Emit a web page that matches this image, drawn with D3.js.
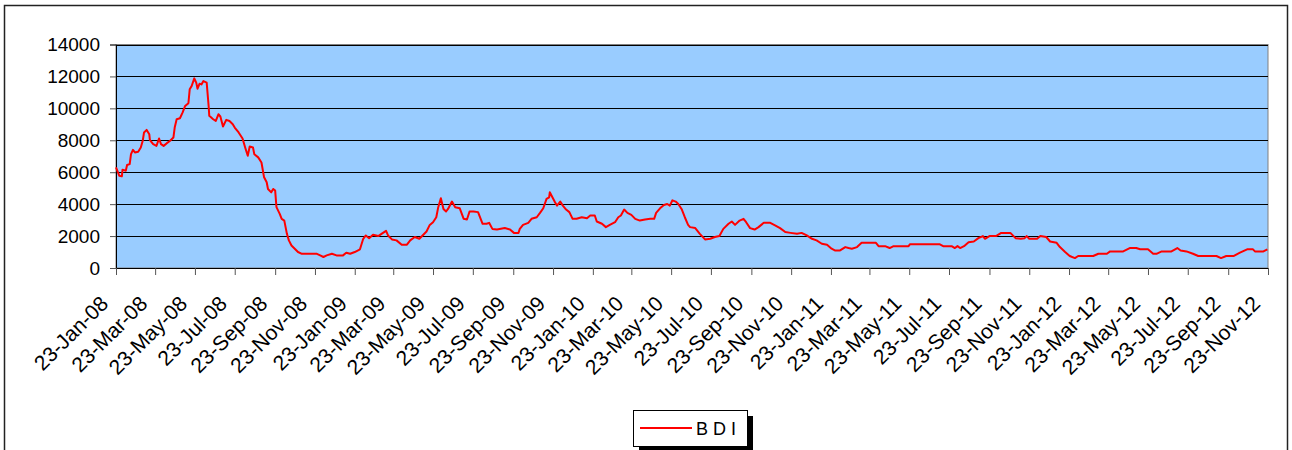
<!DOCTYPE html>
<meta charset="utf-8">
<style>
  body { margin: 0; background: #fff; }
  text { font-family: "Liberation Sans", Arial, sans-serif; fill: #000; }
</style>
<body>
<div id="chart"></div>
<script src="https://d3js.org/d3.v7.min.js"></script>
<script>

// BDI readings
var dates = [
  "2008-01-23","2008-01-28","2008-02-01","2008-02-02","2008-02-07","2008-02-09","2008-02-13","2008-02-15",
  "2008-02-18","2008-02-21","2008-02-26","2008-03-01","2008-03-04","2008-03-06","2008-03-10","2008-03-14",
  "2008-03-15","2008-03-20","2008-03-25","2008-03-29","2008-04-01","2008-04-05","2008-04-10","2008-04-15",
  "2008-04-20","2008-04-22","2008-04-25","2008-04-30","2008-05-04","2008-05-08","2008-05-13","2008-05-15",
  "2008-05-18","2008-05-22","2008-05-25","2008-05-27","2008-05-30","2008-06-02","2008-06-05","2008-06-10",
  "2008-06-13","2008-06-14","2008-06-20","2008-06-24","2008-06-28","2008-07-01","2008-07-05","2008-07-10",
  "2008-07-15","2008-07-20","2008-07-23","2008-07-29","2008-08-04","2008-08-08","2008-08-12","2008-08-15",
  "2008-08-20","2008-08-22","2008-08-28","2008-09-02","2008-09-06","2008-09-10","2008-09-12","2008-09-17",
  "2008-09-20","2008-09-23","2008-09-25","2008-09-30","2008-10-03","2008-10-07","2008-10-11","2008-10-14",
  "2008-10-18","2008-10-23","2008-10-28","2008-11-03","2008-11-15","2008-11-26","2008-12-01","2008-12-06",
  "2008-12-11","2008-12-19","2008-12-26",
  "2009-01-05","2009-01-10","2009-01-16","2009-01-23","2009-01-31","2009-02-05","2009-02-09","2009-02-14",
  "2009-02-20","2009-02-28","2009-03-05","2009-03-12","2009-03-15","2009-03-21","2009-03-28","2009-04-05",
  "2009-04-13","2009-04-18","2009-04-25","2009-05-02","2009-05-07","2009-05-13","2009-05-18","2009-05-23",
  "2009-05-28","2009-05-31","2009-06-04","2009-06-08","2009-06-12","2009-06-15","2009-06-21","2009-06-26",
  "2009-07-03","2009-07-09","2009-07-14","2009-07-18","2009-07-24","2009-07-31","2009-08-07","2009-08-13",
  "2009-08-17","2009-08-22","2009-08-29","2009-09-10","2009-09-18","2009-09-24","2009-10-01","2009-10-03",
  "2009-10-08","2009-10-16","2009-10-21","2009-10-29","2009-11-03","2009-11-08","2009-11-13","2009-11-17",
  "2009-11-18","2009-11-22","2009-11-26","2009-11-29","2009-12-04","2009-12-08","2009-12-13","2009-12-18",
  "2009-12-23","2009-12-29",
  "2010-01-06","2010-01-14","2010-01-19","2010-01-26","2010-01-29","2010-02-06","2010-02-12","2010-02-18",
  "2010-02-26","2010-03-03","2010-03-07","2010-03-12","2010-03-17","2010-03-23","2010-03-29","2010-04-05",
  "2010-04-13","2010-04-21","2010-04-27","2010-04-30","2010-05-06","2010-05-12","2010-05-17","2010-05-21",
  "2010-05-25","2010-05-30","2010-06-03","2010-06-08","2010-06-13","2010-06-18","2010-06-21","2010-06-29",
  "2010-07-06","2010-07-14","2010-07-22","2010-07-29","2010-08-05","2010-08-11","2010-08-19","2010-08-24",
  "2010-08-29","2010-09-05","2010-09-11","2010-09-15","2010-09-21","2010-09-28","2010-10-04","2010-10-12",
  "2010-10-22","2010-10-30","2010-11-06","2010-11-14","2010-11-22","2010-12-02","2010-12-09","2010-12-17",
  "2010-12-25",
  "2011-01-01","2011-01-09","2011-01-17","2011-01-24","2011-01-29","2011-02-06","2011-02-14","2011-02-19",
  "2011-02-24","2011-03-04","2011-03-11","2011-03-24","2011-04-02","2011-04-06","2011-04-16","2011-04-23",
  "2011-04-29","2011-05-22","2011-05-24","2011-07-09","2011-07-14","2011-07-27","2011-08-01","2011-08-05",
  "2011-08-09","2011-08-15","2011-08-22","2011-08-30","2011-09-06","2011-09-13","2011-09-16","2011-09-23",
  "2011-10-03","2011-10-11","2011-10-25","2011-11-02","2011-11-10","2011-11-16","2011-11-19","2011-11-23",
  "2011-12-05","2011-12-10","2011-12-19","2011-12-25",
  "2012-01-04","2012-01-09","2012-01-17","2012-01-24","2012-02-01","2012-02-06","2012-02-29","2012-03-08",
  "2012-03-21","2012-03-26","2012-04-15","2012-04-25","2012-05-05","2012-05-11","2012-05-23","2012-05-31",
  "2012-06-05","2012-06-13","2012-06-28","2012-07-07","2012-07-12","2012-07-21","2012-07-31","2012-08-08",
  "2012-09-05","2012-09-12","2012-09-20","2012-10-01","2012-10-11","2012-10-22","2012-10-31","2012-11-03",
  "2012-11-16","2012-11-22"
];

var bdi = [
  6300,5780,5740,6160,6090,6450,6510,7130,
  7400,7240,7280,7550,7970,8490,8650,8380,
  8010,7760,7650,8110,7760,7650,7820,7970,
  8170,8800,9320,9380,9730,10150,10320,11190,
  11400,11880,11610,11230,11540,11500,11710,11610,
  10150,9530,9320,9210,9630,9490,8860,9280,
  9210,9010,8800,8490,8110,7550,7030,7610,
  7550,7130,6930,6610,5680,5370,4950,4740,
  4950,4850,3810,3390,3080,2970,2140,1730,
  1410,1210,1000,890,890,890,790,690,
  790,890,790,
  790,960,890,1000,1170,1830,2040,1870,
  2080,2000,2140,2330,2040,1790,1730,1460,
  1460,1730,1940,1830,2040,2290,2700,2870,
  3180,3810,4370,3700,3540,3700,4160,3810,
  3740,3080,3040,3540,3540,3500,2770,2770,
  2830,2450,2410,2500,2410,2200,2200,2450,
  2700,2830,3080,3180,3450,3740,4330,4430,
  4740,4430,4120,3910,4160,3910,3660,3500,
  3080,3080,
  3180,3120,3290,3290,2910,2770,2560,2700,
  2870,3180,3290,3660,3450,3330,3080,2970,
  3040,3080,3080,3450,3740,3950,4010,3910,
  4240,4160,4010,3700,3180,2700,2560,2500,
  2140,1790,1830,1940,2000,2450,2770,2910,
  2700,2970,3080,2870,2500,2410,2560,2830,
  2830,2660,2500,2250,2200,2140,2200,2040,
  1830,
  1730,1520,1460,1210,1100,1100,1310,1250,
  1210,1310,1580,1580,1580,1370,1370,1250,
  1370,1370,1480,1480,1370,1370,1250,1370,
  1250,1370,1620,1660,1870,2000,1830,2000,
  2000,2200,2200,1870,1830,1870,2000,1830,
  1830,2000,1940,1660,
  1580,1310,1000,750,620,750,750,890,
  890,1040,1040,1250,1250,1170,1170,890,
  890,1040,1040,1250,1100,1040,890,750,
  750,620,750,750,960,1170,1170,1040,
  1040,1170
];

var yTicks = [0, 2000, 4000, 6000, 8000, 10000, 12000, 14000];

var xTickDates = [
  "2008-01-23","2008-03-23","2008-05-23","2008-07-23","2008-09-23","2008-11-23",
  "2009-01-23","2009-03-23","2009-05-23","2009-07-23","2009-09-23","2009-11-23",
  "2010-01-23","2010-03-23","2010-05-23","2010-07-23","2010-09-23","2010-11-23",
  "2011-01-23","2011-03-23","2011-05-23","2011-07-23","2011-09-23","2011-11-23",
  "2012-01-23","2012-03-23","2012-05-23","2012-07-23","2012-09-23","2012-11-23"
];

var seriesName = "B D I";

var width = 1292,
    height = 450;

var plot = {left: 116, right: 1268, top: 44.5, bottom: 268};

var parse = d3.timeParse("%Y-%m-%d");
var fmt = d3.timeFormat("%d-%b-%y");

var data = dates.map(function(d, i) { return {date: parse(d), value: bdi[i]}; });
var ticks = xTickDates.map(parse);

var x = d3.scaleTime()
    .domain([ticks[0], ticks[ticks.length - 1]])
    .range([plot.left, plot.right]);

var y = d3.scaleLinear()
    .domain([0, 14000])
    .range([plot.bottom, plot.top]);

var svg = d3.select("#chart").append("svg")
    .attr("width", width)
    .attr("height", height);

// chart frame
svg.append("rect")
    .attr("x", 4.5).attr("y", 5.5)
    .attr("width", 1283).attr("height", 460)
    .attr("fill", "#fff")
    .attr("stroke", "#222")
    .attr("stroke-width", 1.5);

// plot area
svg.append("rect")
    .attr("x", plot.left).attr("y", plot.top)
    .attr("width", plot.right - plot.left)
    .attr("height", plot.bottom - plot.top)
    .attr("fill", "#99CCFF")
    .attr("stroke", "#808080")
    .attr("stroke-width", 1);

// gridlines
svg.append("g")
  .selectAll("line")
    .data(yTicks.slice(1))
  .enter().append("line")
    .attr("x1", plot.left).attr("x2", plot.right)
    .attr("y1", function(d) { return Math.round(y(d)) + 0.5; })
    .attr("y2", function(d) { return Math.round(y(d)) + 0.5; })
    .attr("stroke", "#000")
    .attr("stroke-width", 1);

// y axis
var yAxis = svg.append("g")
    .attr("transform", "translate(" + plot.left + ",0)")
    .call(d3.axisLeft(y).tickValues(yTicks).tickSize(6).tickPadding(10).tickFormat(d3.format("d")));
yAxis.selectAll("text").style("font-size", "19px");
yAxis.select(".domain").attr("stroke", "#000");
yAxis.selectAll(".tick line").attr("stroke", "#555");

// x axis
var xAxis = svg.append("g")
    .attr("transform", "translate(0," + plot.bottom + ")")
    .call(d3.axisBottom(x).tickValues(ticks).tickSize(7).tickFormat(fmt));
xAxis.select(".domain").attr("stroke", "#000");
xAxis.selectAll(".tick line").attr("stroke", "#555");
xAxis.selectAll("text")
    .style("font-size", "21px")
    .attr("text-anchor", "end")
    .attr("dy", null)
    .attr("y", null)
    .attr("transform", "translate(-7,37) rotate(-45)");

// BDI line
var line = d3.line()
    .x(function(d) { return x(d.date); })
    .y(function(d) { return y(d.value); });

svg.append("path")
    .datum(data)
    .attr("fill", "none")
    .attr("stroke", "#FF0000")
    .attr("stroke-width", 2)
    .attr("stroke-linejoin", "round")
    .attr("d", line);

// legend
var lg = svg.append("g").attr("transform", "translate(633,410)");
lg.append("rect")
    .attr("x", 6).attr("y", 6)
    .attr("width", 114).attr("height", 36)
    .attr("fill", "#000");
lg.append("rect")
    .attr("x", 0.5).attr("y", 0.5)
    .attr("width", 114).attr("height", 36)
    .attr("fill", "#fff")
    .attr("stroke", "#000");
lg.append("line")
    .attr("x1", 7).attr("x2", 59)
    .attr("y1", 18).attr("y2", 18)
    .attr("stroke", "#FF0000")
    .attr("stroke-width", 2);
lg.append("text")
    .attr("x", 63).attr("y", 25)
    .style("font-size", "18px")
    .text(seriesName);

</script>
</body>
